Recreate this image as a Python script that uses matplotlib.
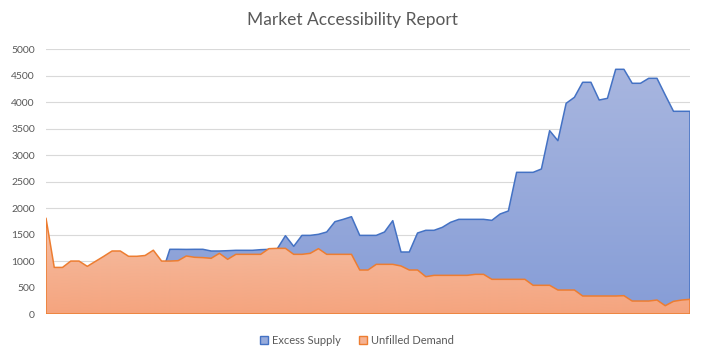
import numpy as np
import matplotlib
matplotlib.use("Agg")
import matplotlib.pyplot as plt
from matplotlib.patches import Patch
from matplotlib.colors import LinearSegmentedColormap

plt.rcParams['font.family'] = ['Lato', 'DejaVu Sans']

# ---- data ----
periods = list(range(79))
unfilled_demand = [1810, 880, 880, 1000, 1000, 900, 995, 1090, 1190, 1190,
                   1090, 1090, 1105, 1205, 1000, 1000, 1007, 1096, 1071, 1065,
                   1052, 1146, 1033, 1127, 1127, 1127, 1127, 1234, 1240, 1240,
                   1127, 1127, 1146, 1234, 1127, 1127, 1127, 1127, 831, 831,
                   938, 938, 938, 907, 831, 831, 705, 730, 730, 730,
                   730, 730, 749, 749, 655, 655, 655, 655, 655, 542,
                   542, 542, 453, 453, 453, 340, 340, 340, 340, 340,
                   346, 245, 245, 245, 264, 157, 239, 264, 277]
excess_supply = [0, 0, 0, 0, 0, 0, 0, 0, 0, 0,
                 0, 0, 0, 0, 740, 1222, 1222, 1220, 1222, 1222,
                 1190, 1190, 1196, 1203, 1203, 1203, 1215, 1221, 1230, 1479,
                 1278, 1485, 1485, 1505, 1549, 1744, 1788, 1838, 1485, 1485,
                 1485, 1549, 1763, 1171, 1171, 1530, 1581, 1581, 1637, 1732,
                 1788, 1788, 1788, 1788, 1769, 1889, 1946, 2676, 2676, 2676,
                 2739, 3463, 3274, 3980, 4093, 4377, 4377, 4042, 4074, 4622,
                 4622, 4358, 4358, 4452, 4452, 4137, 3829, 3829, 3829]
series_names = ["Excess Supply", "Unfilled Demand"]
title = "Market Accessibility Report"

W, H = 705, 359
fig = plt.figure(figsize=(W / 100, H / 100), dpi=100)
ax = fig.add_axes([46 / W, 1 - 314 / H, (690 - 46) / W, (314 - 49.3) / H])

x = np.array(periods, dtype=float)


def gradient_area(yvals, top_rgb, bot_rgb, edge, z):
    yv = np.array(yvals, dtype=float)
    poly = ax.fill_between(x, 0, yv, facecolor='none', edgecolor=edge,
                           linewidth=1.1, zorder=z + 0.5)
    cmap = LinearSegmentedColormap.from_list('g', [bot_rgb, top_rgb])
    grad = np.linspace(0, 1, 256).reshape(-1, 1)
    im = ax.imshow(grad, cmap=cmap, aspect='auto', origin='lower',
                   extent=[x[0], x[-1], 0, yv.max()], zorder=z,
                   interpolation='bilinear')
    im.set_clip_path(poly.get_paths()[0], transform=ax.transData)
    return poly


gradient_area(excess_supply, '#A8B6DF', '#869DD7', '#4472C4', 2)
gradient_area(unfilled_demand, '#F5C0A6', '#F5A47E', '#ED7D31', 3)

ax.set_xlim(x[0], x[-1])
ax.set_ylim(0, 5000)
ax.set_yticks(np.arange(0, 5001, 500))
ax.set_xticks([])
ax.grid(axis='y', color='#D9D9D9', linewidth=0.8)
ax.set_axisbelow(True)
for s in ax.spines.values():
    s.set_visible(False)
ax.tick_params(axis='y', length=0, pad=8, labelsize=7.5, labelcolor='#595959')

fig.text(0.5 * (46 + 690) / W * 0 + 352.5 / W, 1 - 20 / H, title,
         ha='center', va='center', fontsize=12.5, color='#595959')

handles = [Patch(facecolor='#97ABDB', edgecolor='#4472C4', linewidth=1.0),
           Patch(facecolor='#F5B292', edgecolor='#ED7D31', linewidth=1.0)]
fig.legend(handles, series_names, loc='center', bbox_to_anchor=(357 / W, 1 - 340 / H),
           ncol=2, frameon=False, fontsize=8, handlelength=0.7, handleheight=0.7,
           handletextpad=0.4, columnspacing=1.6, labelcolor='#595959')

fig.savefig('out.png', dpi=100)
